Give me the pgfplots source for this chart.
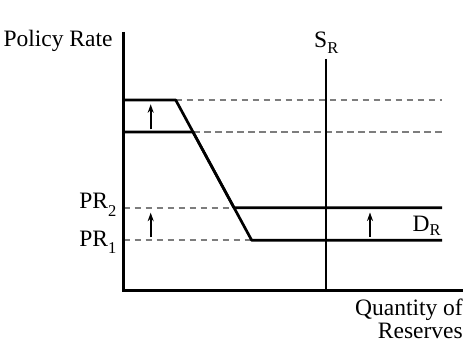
\documentclass[border=0pt]{standalone}
\usepackage{fontspec}
\setmainfont{Liberation Serif}
\usepackage{pgfplots}
\pgfplotsset{compat=1.18}
\usetikzlibrary{arrows.meta}
\newcommand{\mainf}{\fontsize{23.5}{28}\selectfont}
\newcommand{\subf}{\fontsize{16.5}{18}\selectfont}
\definecolor{dgray}{RGB}{125,125,125}
\begin{document}
\begin{tikzpicture}
\useasboundingbox (0,0) rectangle (469pt,364pt);
\begin{axis}[at={(0,0)}, anchor=south west, width=469pt, height=364pt, scale only axis,
  xmin=0, xmax=469, ymin=0, ymax=364, y dir=reverse, hide axis, clip=false]
% dashed guide lines
\addplot[dgray, line width=1.7pt, dash pattern=on 6.5pt off 4.5pt] coordinates {(175.7,100) (442,100)};
\addplot[dgray, line width=1.7pt, dash pattern=on 6.5pt off 4.5pt] coordinates {(193,132) (442,132)};
\addplot[dgray, line width=1.7pt, dash pattern=on 6.5pt off 4.5pt] coordinates {(123.5,207.7) (234,207.7)};
\addplot[dgray, line width=1.7pt, dash pattern=on 6.5pt off 4.5pt] coordinates {(123.5,240.3) (251.7,240.3)};
% supply
\addplot[black, line width=2.7pt] coordinates {(326,59) (326,290)};
% demand curves (shared diagonal)
\addplot[black, line width=2.7pt, line join=round] coordinates {(123.5,100) (175.7,100) (234,207.7) (442,207.7)};
\addplot[black, line width=2.7pt, line join=round] coordinates {(123.5,132) (193,132) (251.7,240.3) (442,240.3)};
% axes
\addplot[black, line width=3pt] coordinates {(123.5,32) (123.5,290) (463,290)};
% arrows
\addplot[black, line width=1.6pt, -{Stealth[length=8.5pt,width=6pt]}] coordinates {(150.7,129.3) (150.7,104.3)};
\addplot[black, line width=1.6pt, -{Stealth[length=8.5pt,width=6pt]}] coordinates {(150.7,237) (150.7,212.7)};
\addplot[black, line width=1.6pt, -{Stealth[length=8.5pt,width=6pt]}] coordinates {(370,237) (370,212.5)};
% labels
\node[anchor=base west, inner sep=0pt, font=\mainf] at (axis cs:3.3,46.7) {Policy Rate};
\node[anchor=base west, inner sep=0pt, font=\mainf] at (axis cs:314,47.5) {S\raisebox{-6.5pt}{\subf R}};
\node[anchor=base east, inner sep=0pt, font=\mainf] at (axis cs:116.5,208.7) {PR\raisebox{-7.3pt}{\subf 2}};
\node[anchor=base east, inner sep=0pt, font=\mainf] at (axis cs:116.5,246) {PR\raisebox{-7pt}{\subf 1}};
\node[anchor=base west, inner sep=0pt, font=\mainf] at (axis cs:412.5,231) {D\raisebox{-4pt}{\subf R}};
\node[anchor=base east, inner sep=0pt, font=\mainf] at (axis cs:463,315.3) {Quantity of};
\node[anchor=base east, inner sep=0pt, font=\mainf] at (axis cs:463,338) {Reserves};
\end{axis}
\end{tikzpicture}
\end{document}
